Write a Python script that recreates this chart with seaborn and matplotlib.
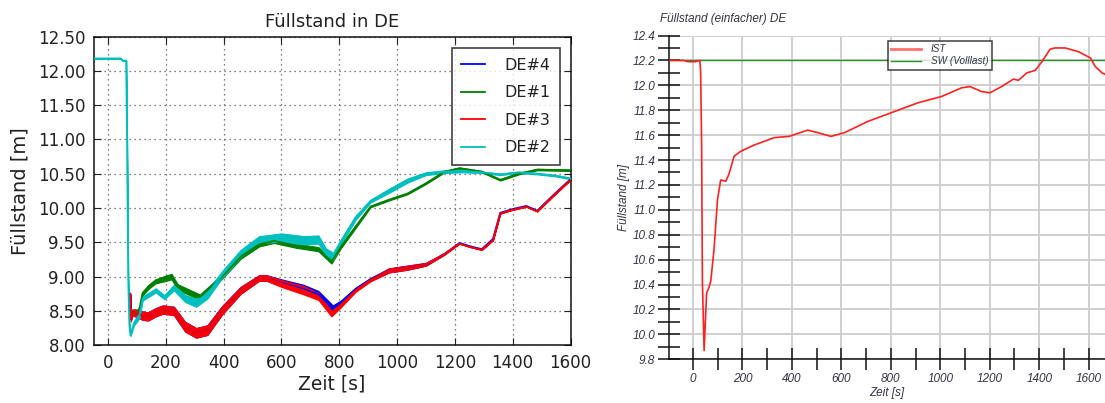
import numpy as np
import pandas as pd
import matplotlib
matplotlib.use("Agg")
import matplotlib.pyplot as plt
import seaborn as sns
from matplotlib.ticker import MultipleLocator

# ---------------- data: left chart ----------------
t_de2 = [-50, 45, 50, 63, 66, 70, 74, 78, 83, 90, 100, 110, 120, 135, 165, 195, 228, 267, 305, 344, 395,
         459, 523, 600, 677, 728, 754, 779, 805, 857, 908, 972, 1036, 1100, 1164, 1229, 1293, 1357, 1421,
         1485, 1549, 1600]
y_de2 = [12.18, 12.18, 12.15, 12.15, 11.0, 9.0, 8.3, 8.14, 8.22, 8.32, 8.38, 8.45, 8.68, 8.72, 8.80, 8.70,
         8.84, 8.68, 8.62, 8.74, 9.03, 9.34, 9.54, 9.57, 9.53, 9.54, 9.36, 9.30, 9.50, 9.86, 10.10, 10.25,
         10.40, 10.50, 10.53, 10.54, 10.52, 10.49, 10.52, 10.50, 10.47, 10.43]
a_de2 = [0, 0, 0, 0, 0, 0, 0, 0, 0.02, 0.03, 0.04, 0.04, 0.03, 0.03, 0.03, 0.03, 0.04, 0.05, 0.06, 0.06,
         0.05, 0.05, 0.05, 0.06, 0.06, 0.06, 0.05, 0.05, 0.04, 0.03, 0.02, 0.03, 0.03, 0.02, 0.02, 0.02,
         0.01, 0.01, 0.01, 0.01, 0.01, 0.01]

t_de1 = [80, 90, 100, 110, 119, 140, 164, 203, 220, 241, 292, 318, 395, 459, 523, 574, 651, 728, 773, 805,
         857, 908, 972, 1036, 1100, 1164, 1216, 1293, 1357, 1421, 1485, 1600]
y_de1 = [8.50, 8.46, 8.47, 8.55, 8.75, 8.85, 8.93, 8.98, 9.0, 8.85, 8.75, 8.70, 9.00, 9.29, 9.47, 9.52,
         9.45, 9.40, 9.22, 9.43, 9.73, 10.02, 10.12, 10.21, 10.36, 10.53, 10.58, 10.53, 10.41, 10.50,
         10.56, 10.55]
a_de1 = [0.02, 0.02, 0.02, 0.02, 0.03, 0.03, 0.03, 0.04, 0.04, 0.04, 0.04, 0.04, 0.03, 0.03, 0.03, 0.03,
         0.03, 0.03, 0.03, 0.02, 0.02, 0.01, 0.01, 0.01, 0.01, 0.01, 0.01, 0.01, 0.01, 0.01, 0.01, 0.01]

t_de3 = [77, 79, 85, 94, 110, 120, 139, 165, 190, 228, 267, 305, 344, 395, 459, 523, 549, 600, 677, 728,
         773, 805, 857, 908, 972, 1036, 1100, 1164, 1216, 1254, 1293, 1332, 1357, 1396, 1447, 1485, 1536,
         1600]
y_de3 = [8.75, 8.38, 8.48, 8.47, 8.45, 8.43, 8.42, 8.48, 8.52, 8.50, 8.27, 8.18, 8.22, 8.51, 8.80, 8.98,
         8.98, 8.90, 8.80, 8.71, 8.46, 8.58, 8.80, 8.95, 9.09, 9.13, 9.18, 9.33, 9.48, 9.43, 9.39, 9.53,
         9.92, 9.97, 10.02, 9.95, 10.16, 10.41]
a_de3 = [0, 0.03, 0.04, 0.05, 0.06, 0.06, 0.06, 0.06, 0.06, 0.06, 0.07, 0.07, 0.07, 0.06, 0.05, 0.04,
         0.04, 0.05, 0.06, 0.05, 0.04, 0.03, 0.02, 0.02, 0.03, 0.03, 0.02, 0.01, 0.0, 0.0, 0.0, 0.0, 0.0,
         0.0, 0.0, 0.0, 0.0, 0.0]

t_de4 = [77, 79, 85, 94, 110, 120, 139, 165, 190, 228, 267, 305, 344, 395, 459, 523, 549, 600, 677, 728,
         778, 805, 857, 908, 972, 1036, 1100, 1164, 1216, 1254, 1293, 1332, 1357, 1396, 1447, 1485, 1536,
         1600]
y_de4 = [8.75, 8.38, 8.48, 8.47, 8.45, 8.43, 8.42, 8.48, 8.52, 8.50, 8.27, 8.18, 8.22, 8.51, 8.80, 8.98,
         8.98, 8.91, 8.82, 8.74, 8.54, 8.62, 8.82, 8.96, 9.09, 9.13, 9.18, 9.33, 9.49, 9.44, 9.40, 9.55,
         9.93, 9.98, 10.03, 9.96, 10.17, 10.42]
a_de4 = [0, 0.03, 0.04, 0.05, 0.06, 0.06, 0.06, 0.06, 0.06, 0.06, 0.07, 0.07, 0.07, 0.06, 0.05, 0.04,
         0.04, 0.05, 0.06, 0.05, 0.04, 0.03, 0.02, 0.02, 0.03, 0.03, 0.02, 0.01, 0.0, 0.0, 0.0, 0.0, 0.0,
         0.0, 0.0, 0.0, 0.0, 0.0]

left_series = ["DE#4", "DE#1", "DE#3", "DE#2"]
left_colors = ["#0000ff", "#008000", "#ff0000", "#00bfbf"]

# ---------------- data: right chart ----------------
t_ist = [-97, -40, -20, 10, 28, 31, 35, 38, 45, 55, 65, 72, 85, 99, 112, 133, 146, 166, 193, 247, 329,
         389, 464, 504, 558, 613, 707, 802, 910, 1005, 1086, 1120, 1167, 1201, 1248, 1296, 1316, 1350,
         1384, 1411, 1444, 1464, 1505, 1559, 1607, 1627, 1654, 1675]
y_ist = [12.20, 12.20, 12.19, 12.19, 12.20, 12.10, 11.51, 10.43, 9.87, 10.33, 10.38, 10.43, 10.68, 11.08,
         11.24, 11.23, 11.29, 11.43, 11.47, 11.52, 11.58, 11.59, 11.64, 11.62, 11.59, 11.62, 11.71, 11.78,
         11.86, 11.91, 11.98, 11.99, 11.95, 11.94, 11.99, 12.05, 12.04, 12.10, 12.12, 12.19, 12.29, 12.30,
         12.30, 12.27, 12.22, 12.15, 12.10, 12.08]
t_sw = [-97, 1675]
y_sw = [12.2, 12.2]

# ---------------- figure ----------------
W, H = 1105, 403
fig = plt.figure(figsize=(W / 100, H / 100), dpi=100)
fig.patch.set_facecolor("white")


def px_axes(l, t, r, b):
    return fig.add_axes([l / W, 1 - b / H, (r - l) / W, (b - t) / H])


# ---- left axes (classic matplotlib look) ----
axL = px_axes(93.5, 36.5, 570.5, 345.2)
data_sets = [(t_de4, y_de4, a_de4), (t_de1, y_de1, a_de1), (t_de3, y_de3, a_de3), (t_de2, y_de2, a_de2)]
for name, col, (t, y, a) in zip(left_series, left_colors, data_sets):
    df = pd.DataFrame({"Zeit": t, "Wert": y, "amp": a})
    axL.fill_between(df["Zeit"], df["Wert"] - df["amp"], df["Wert"] + df["amp"], color=col, lw=0.8,
                     edgecolor=col, zorder=2)
    sns.lineplot(data=df, x="Zeit", y="Wert", ax=axL, color=col, lw=1.3, label=name, estimator=None,
                 sort=False, zorder=3)

axL.set_xlim(-50, 1600)
axL.set_ylim(8.0, 12.5)
axL.xaxis.set_major_locator(MultipleLocator(200))
axL.yaxis.set_major_locator(MultipleLocator(0.5))
axL.yaxis.set_major_formatter(matplotlib.ticker.FormatStrFormatter("%.2f"))
axL.grid(True, color="#555555", linestyle=(0, (1, 3)), lw=0.9)
axL.tick_params(direction="in", length=5, width=0.8, top=True, right=True, labelsize=12, pad=6,
                colors="#222222")
for s in axL.spines.values():
    s.set_color("#111111")
    s.set_linewidth(1.1)
axL.set_xlabel("Zeit [s]", fontsize=13.5, color="#222222", labelpad=2)
axL.set_ylabel("Füllstand [m]", fontsize=14, color="#222222", labelpad=6)
axL.set_title("Füllstand in DE", fontsize=13, color="#222222", pad=7)
legL = axL.legend(loc="upper right", bbox_to_anchor=(0.985, 0.972), fontsize=11.5, frameon=True,
                  fancybox=False, handlelength=1.5, handletextpad=1.2, labelspacing=0.78,
                  borderpad=0.6, borderaxespad=0.2)
legL.get_frame().set_edgecolor("#111111")
legL.get_frame().set_linewidth(1.2)
for txt in legL.get_texts():
    txt.set_color("#222222")

# ---- right axes (simple plot tool look) ----
axR = px_axes(669, 35.5, 1105, 359.3)
df_ist = pd.DataFrame({"Zeit": t_ist, "Wert": y_ist})
df_sw = pd.DataFrame({"Zeit": t_sw, "Wert": y_sw})
sns.lineplot(data=df_sw, x="Zeit", y="Wert", ax=axR, color="#2e8b2e", lw=1.0, label="SW (Volllast)",
             estimator=None, sort=False, zorder=3)
sns.lineplot(data=df_ist, x="Zeit", y="Wert", ax=axR, color="#ff2020", lw=1.2, label="IST",
             estimator=None, sort=False, zorder=4)
axR.set_xlim(-97, 1666)
axR.set_ylim(9.8, 12.4)
axR.set_xticks(np.arange(0, 1700, 100))
axR.set_xticklabels([f"{v}" if v % 200 == 0 else "" for v in range(0, 1700, 100)])
yt = np.round(np.arange(9.8, 12.41, 0.1), 1)
axR.set_yticks(yt)
axR.set_yticklabels([f"{v:.1f}" if round(v * 10) % 2 == 0 else "" for v in yt])
for v in range(0, 1700, 200):
    axR.axvline(v, color="#cfcfcf", lw=1.4, zorder=1)
for v in np.arange(9.8, 12.41, 0.2):
    axR.axhline(v, color="#cfcfcf", lw=1.4, zorder=1)
axR.tick_params(direction="inout", length=16, width=1.1, labelsize=8.5, colors="#111111", pad=2)
for lab in axR.get_xticklabels() + axR.get_yticklabels():
    lab.set_fontstyle("italic")
    lab.set_family("Liberation Sans")
    lab.set_fontsize(8.5)
    lab.set_color("#333344")
for s in ["top", "right"]:
    axR.spines[s].set_visible(False)
for s in ["left", "bottom"]:
    axR.spines[s].set_color("#111111")
    axR.spines[s].set_linewidth(1.1)
axR.set_xlabel("Zeit [s]", fontsize=8.5, style="italic", family="Liberation Sans", color="#333344",
               labelpad=1)
axR.set_ylabel("Füllstand [m]", fontsize=8.5, style="italic", family="Liberation Sans", color="#333344",
               labelpad=2)
fig.text(660 / W, 1 - 19 / H, "Füllstand (einfacher) DE", fontsize=8.5, style="italic",
         family="Liberation Sans", color="#333344", ha="left", va="center")
handles, labels = axR.get_legend_handles_labels()
legR = axR.legend(handles[::-1], labels[::-1], loc="upper left",
                  bbox_to_anchor=((888 - 669) / (1105 - 669), 1 - (41 - 35.5) / (359.3 - 35.5)),
                  borderaxespad=0, frameon=True, fancybox=False, handlelength=3.0,
                  handletextpad=1.0, labelspacing=0.25, borderpad=0.3,
                  prop={"family": "Liberation Sans", "style": "italic", "size": 7.2})
legR.get_frame().set_edgecolor("#111111")
legR.get_frame().set_linewidth(1.1)
legR.get_lines()[0].set_color("#ff7070")
legR.get_lines()[0].set_linewidth(2.0)
for txt in legR.get_texts():
    txt.set_color("#333344")

fig.savefig("out.png", dpi=100, facecolor="white")
